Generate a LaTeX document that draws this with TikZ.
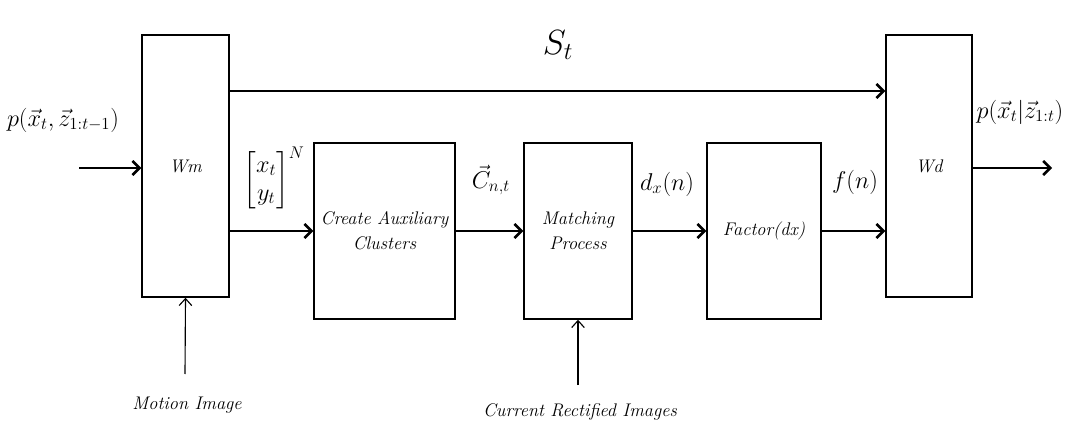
\documentclass[tikz,border=0pt]{standalone}
\usepackage{amsmath}
\usepackage{amssymb}
\usetikzlibrary{arrows.meta}

\tikzset{
  block/.style={draw, line width=1pt, inner sep=0pt, align=center,
    font=\itshape\fontsize{13}{18}\selectfont},
  flow/.style={-{Straight Barb[length=5pt,width=10pt]}, line width=1.8pt},
  feed/.style={-{Straight Barb[length=5pt,width=9pt]}, line width=0.8pt},
  sig/.style={font=\fontsize{17}{20}\selectfont},
  note/.style={font=\itshape\fontsize{13}{15}\selectfont},
}

\begin{document}
\begin{tikzpicture}[x=0.025cm,y=-0.025cm]
\useasboundingbox (0,0) rectangle (1083,425);
% blocks
\node[block, minimum width=2.175cm, minimum height=6.55cm] (Wm) at (185.5,166) {Wm};
\node[block, minimum width=3.525cm, minimum height=4.4cm] (CAC) at (384.5,231) {Create Auxiliary\\Clusters};
\node[block, minimum width=2.7cm, minimum height=4.4cm] (MP) at (578,231) {Matching\\Process};
\node[block, minimum width=2.85cm, minimum height=4.4cm] (Fac) at (764,231) {Factor(dx)};
\node[block, minimum width=2.15cm, minimum height=6.55cm] (Wd) at (929,166) {Wd};
% free ends
\coordinate (in) at (79,168);
\coordinate (out) at (1052,168);
\coordinate (top) at (0,91);
\coordinate (mot) at (185,374);
\coordinate (cur) at (578,385);
% labels
\node[sig, inner sep=0pt] (pin) at (63,120) {$p(\vec{x}_t,\vec{z}_{1:t-1})$};
\node[font=\fontsize{24}{28}\selectfont, inner sep=0pt] (St) at (558,45) {$S_t$};
\node[sig, inner sep=0pt] (xy) at (274,178) {$\begin{bmatrix}x_t\\ y_t\end{bmatrix}^{N}$};
\node[sig, inner sep=0pt] (C) at (491,180) {$\vec{C}_{n,t}$};
\node[sig, inner sep=0pt] (dx) at (667,184) {$d_x(n)$};
\node[sig, inner sep=0pt] (fn) at (855,182) {$f(n)$};
\node[sig, inner sep=0pt] (pout) at (1020,112) {$p(\vec{x}_t|\vec{z}_{1:t})$};
\node[note] (mi) at (187,405) {Motion Image};
\node[note] (cri) at (580,412) {Current Rectified Images};
% connectors
\draw[flow] (in) -- (in -| Wm.west);
\draw[flow] (top -| Wm.east) -- (top -| Wd.west);
\draw[flow] (CAC.west -| Wm.east) -- (CAC.west);
\draw[flow] (CAC.east) -- (MP.west);
\draw[flow] (MP.east) -- (Fac.west);
\draw[flow] (Fac.east) -- (Fac.east -| Wd.west);
\draw[flow] (out -| Wd.east) -- (out);
\draw[feed] (mot) -- (Wm.south);
\draw[feed] (cur) -- (MP.south);
\end{tikzpicture}
\end{document}
